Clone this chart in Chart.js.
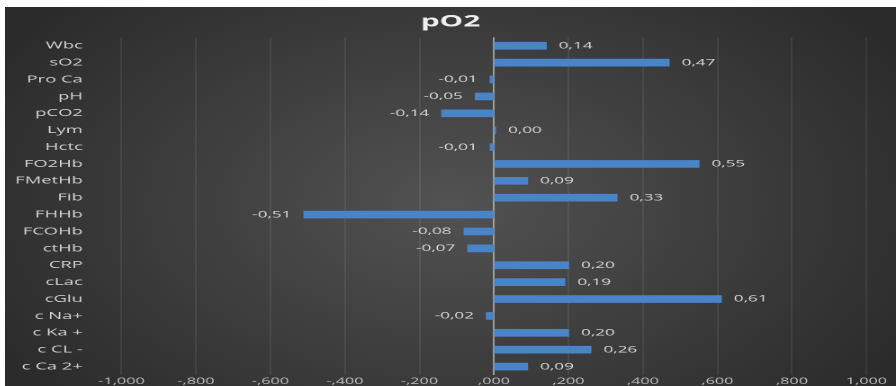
<!DOCTYPE html>
<html>
<head>
<meta charset="utf-8">
<title>pO2</title>
<script src="https://cdn.jsdelivr.net/npm/chart.js@4"></script>
<style>
  body { margin: 0; background: #ffffff; }
  /* the canvas is drawn narrow and shown wide, which gives the stretched lettering */
  #myChart {
    position: absolute;
    left: 5px;
    top: 7px;
    background: radial-gradient(ellipse 60% 80% at 50% 52%, #525252 0%, #3c3c3c 55%, #2a2a2a 100%);
  }
</style>
</head>
<body>
<canvas id="myChart" width="495" height="379" style="width:891px;height:379px"></canvas>
<script>
// Correlation of each parameter with pO2
const parameters = ["Wbc", "sO2", "Pro Ca", "pH", "pCO2", "Lym", "Hctc", "FO2Hb", "FMetHb", "Fib",
  "FHHb", "FCOHb", "ctHb", "CRP", "cLac", "cGlu", "c Na+", "c Ka +", "c CL -", "c Ca 2+"];
const correlations = [0.14, 0.47, -0.01, -0.05, -0.14, 0.004, -0.01, 0.55, 0.09, 0.33,
  -0.51, -0.08, -0.07, 0.20, 0.19, 0.61, -0.02, 0.20, 0.26, 0.09];

// Axis labels in the spreadsheet's number format
const tickLabels = ["-1,000", "-,800", "-,600", "-,400", "-,200", ",000", ",200", ",400", ",600", ",800", "1,000"];

// Writes the value next to the end of every bar
const valueLabels = {
  id: "valueLabels",
  afterDatasetsDraw(chart) {
    const ctx = chart.ctx;
    const bars = chart.getDatasetMeta(0).data;
    ctx.save();
    ctx.font = "9.5px 'Open Sans'";
    ctx.fillStyle = "#d9d9d9";
    ctx.textBaseline = "middle";
    bars.forEach((bar, i) => {
      const v = correlations[i];
      const text = v.toFixed(2).replace(".", ",");
      if (v < 0) {
        ctx.textAlign = "right";
        ctx.fillText(text, bar.x - 7, bar.y);
      } else {
        ctx.textAlign = "left";
        ctx.fillText(text, bar.x + 7, bar.y);
      }
    });
    ctx.restore();
  }
};

Chart.defaults.font.family = "'Open Sans'";

const canvas = document.getElementById("myChart");
const ctx = canvas.getContext("2d");

new Chart(ctx, {
  type: "bar",
  data: {
    labels: parameters,
    datasets: [{
      data: correlations,
      backgroundColor: "#4a84c8",
      borderWidth: 0,
      barThickness: 7
    }]
  },
  options: {
    indexAxis: "y",
    responsive: false,
    devicePixelRatio: 2,
    animation: false,
    layout: { padding: 0 },
    plugins: {
      legend: { display: false },
      tooltip: { enabled: false },
      title: {
        display: true,
        text: "pO2",
        color: "#eeeeee",
        font: { size: 16.5, weight: "bold" },
        padding: { top: 5, bottom: 5.5 }
      }
    },
    scales: {
      x: {
        min: -1,
        max: 1,
        grid: {
          color: c => c.tick && c.tick.value === 0 ? "#b5b5b5" : "rgba(255,255,255,0.12)",
          lineWidth: c => c.tick && c.tick.value === 0 ? 0.8 : 0.6,
          drawTicks: false
        },
        border: { display: false },
        ticks: {
          stepSize: 0.2,
          color: "#bfbfbf",
          font: { size: 9 },
          padding: 1,
          maxRotation: 0,
          callback: (value, index) => tickLabels[index]
        },
        afterFit(scale) {
          scale.height = 11;
          scale.paddingRight = 16.4;
        }
      },
      y: {
        grid: { display: false },
        border: { display: false },
        ticks: { color: "#d4d4d4", font: { size: 10.2 }, padding: 13.5, autoSkip: false },
        afterFit(scale) {
          scale.width = 64.7;
          scale.paddingTop = 0;
          scale.paddingBottom = 0;
        }
      }
    }
  },
  plugins: [valueLabels]
});
</script>
</body>
</html>
